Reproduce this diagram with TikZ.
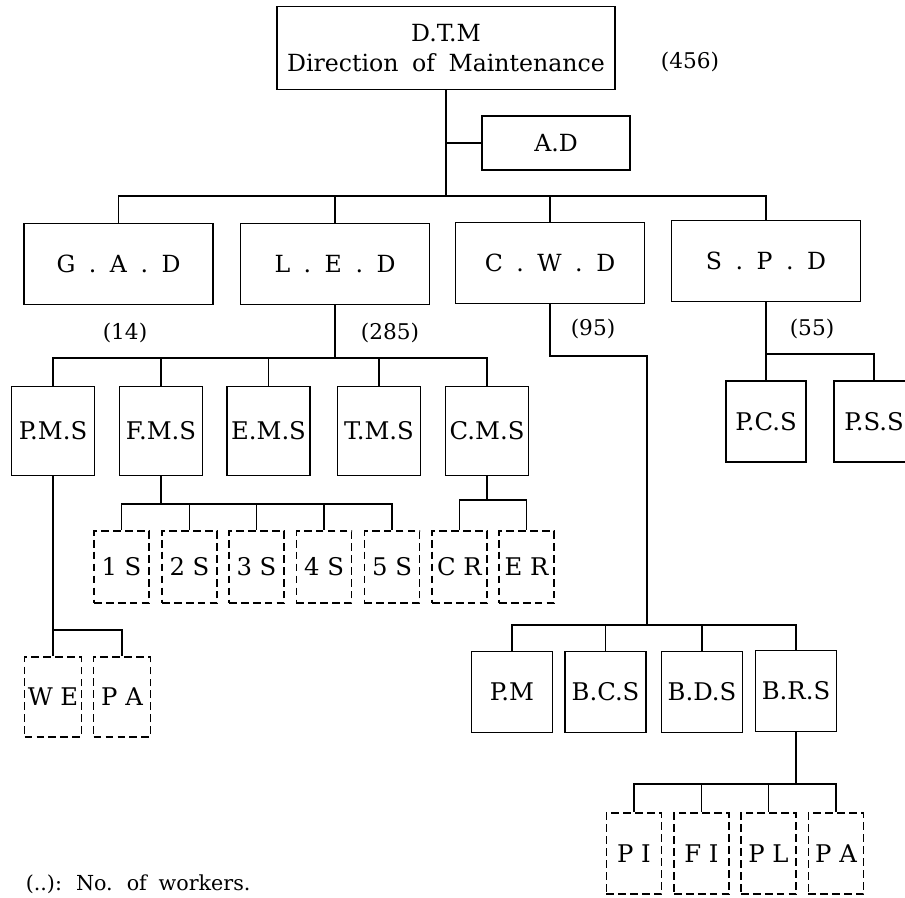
\documentclass[tikz,border=0pt]{standalone}
\usepackage{fontspec}
\setmainfont{DejaVu Serif}
\newfontfamily\widefont[WordSpace=1.8]{DejaVu Serif}

\begin{document}
\begin{tikzpicture}[x=0.025cm,y=-0.025cm,line width=1.1pt,
  box/.style={draw,inner sep=0pt,font=\fontsize{17.3}{20}\selectfont},
  head/.style={box,align=center,font=\widefont\fontsize{16.8}{21}\selectfont},
  dept/.style={box,minimum width=4.72cm,minimum height=2.03cm,font=\widefont\fontsize{16.8}{19}\selectfont},
  sect/.style={box,minimum width=2.08cm,minimum height=2.22cm},
  sub/.style={box,minimum width=2.02cm,minimum height=2.02cm},
  unit/.style={box,dash pattern=on 5.5pt off 3pt,minimum width=1.38cm},
  cnt/.style={inner sep=0pt,font=\fontsize{15.4}{17}\selectfont}]
\useasboundingbox (0,0) rectangle (905,898);

% ================= direction =================
\node[head,minimum width=8.45cm,minimum height=2.08cm] (dtm) at (446,48) {D.T.M\\Direction of Maintenance};
\node[cnt] (dtmn) at (690,62) {(456)};
\node[box,minimum width=3.7cm,minimum height=1.35cm,font=\fontsize{16.8}{19}\selectfont] (ad) at (556,143) {A.D};
\coordinate (topbus) at (446,196);
\draw (dtm.south) -- (topbus);
\draw (dtm.south |- ad.west) -- (ad.west);

% ================= departments =================
\node[dept] (gad) at (118.5,264) {G . A . D};
\node[dept] (led) at (335,264) {L . E . D};
\node[dept] (cwd) at (550,263) {C . W . D};
\node[dept] (spd) at (766,261) {S . P . D};
\draw (gad.north) |- (topbus) -| (spd.north);
\draw (led.north) -- (led.north |- topbus);
\draw (cwd.north) -- (cwd.north |- topbus);
\node[cnt] (gadn) at (125,333) {(14)};
\node[cnt] (ledn) at (390,333) {(285)};
\node[cnt] (cwdn) at (593,329) {(95)};
\node[cnt] (spdn) at (812,329) {(55)};

% ================= L.E.D sections =================
\node[sect] (pms) at (53,431) {P.M.S};
\node[sect] (fms) at (161,431) {F.M.S};
\node[sect] (ems) at (268.5,431) {E.M.S};
\node[sect] (tms) at (379,431) {T.M.S};
\node[sect] (cms) at (487,431) {C.M.S};
\coordinate (ledbus) at (335,358);
\draw (led.south) -- (ledbus);
\draw (pms.north) |- (ledbus) -| (cms.north);
\foreach \s in {fms,ems,tms}
  \draw (\s.north) -- (\s.north |- ledbus);

% shops under F.M.S
\foreach \i/\x in {1/121.5,2/189.5,3/256.5,4/324,5/392}
  \node[unit,minimum height=1.8cm] (s\i) at (\x,567) {\i\ S};
\coordinate (fmsbus) at (161,504);
\draw (fms.south) -- (fmsbus);
\draw (s1.north) |- (fmsbus) -| (s5.north);
\foreach \i in {2,3,4}
  \draw (s\i.north) -- (s\i.north |- fmsbus);

% rooms under C.M.S
\node[unit,minimum height=1.8cm] (cr) at (459.5,567) {C R};
\node[unit,minimum height=1.8cm] (er) at (526.5,567) {E R};
\coordinate (cmsbus) at (487,500);
\draw (cms.south) -- (cmsbus);
\draw (cr.north) |- (cmsbus) -| (er.north);

% under P.M.S
\node[unit,minimum width=1.42cm,minimum height=2cm] (we) at (53,697) {W E};
\node[unit,minimum width=1.42cm,minimum height=2cm] (pa) at (122,697) {P A};
\coordinate (pmsbus) at (53,630);
\draw (pms.south) -- (we.north);
\draw (pmsbus) -| (pa.north);

% ================= C.W.D sections =================
\coordinate (cwdbend) at (647,356);
\coordinate (cwdbus) at (647,625);
\draw (cwd.south) |- (cwdbend) -- (cwdbus);
\node[sub] (pm) at (512,692) {P.M};
\node[sub] (bcs) at (605.5,692) {B.C.S};
\node[sub] (bds) at (702,692) {B.D.S};
\node[sub] (brs) at (796,691) {B.R.S};
\draw (pm.north) |- (cwdbus) -| (brs.north);
\foreach \s in {bcs,bds}
  \draw (\s.north) -- (\s.north |- cwdbus);

% under B.R.S
\node[unit,minimum height=2.03cm] (pi) at (634,853.5) {P I};
\node[unit,minimum height=2.03cm] (fi) at (701.5,853.5) {F I};
\node[unit,minimum height=2.03cm] (pl) at (768.5,853.5) {P L};
\node[unit,minimum height=2.03cm] (pb) at (836,853.5) {P A};
\coordinate (brsbus) at (796,784);
\draw (brs.south) -- (brsbus);
\draw (pi.north) |- (brsbus) -| (pb.north);
\foreach \s in {fi,pl}
  \draw (\s.north) -- (\s.north |- brsbus);

% ================= S.P.D sections =================
\node[sub,minimum width=2cm] (pcs) at (766,421.5) {P.C.S};
\node[sub,minimum width=2cm] (pss) at (874,421.5) {P.S.S};
\coordinate (spdbus) at (766,354);
\draw (spd.south) -- (pcs.north);
\draw (spdbus) -| (pss.north);

\node[anchor=west,inner sep=0pt,font=\widefont\fontsize{14.7}{17}\selectfont] (note) at (25,884) {(..): No. of workers.};
\end{tikzpicture}
\end{document}
